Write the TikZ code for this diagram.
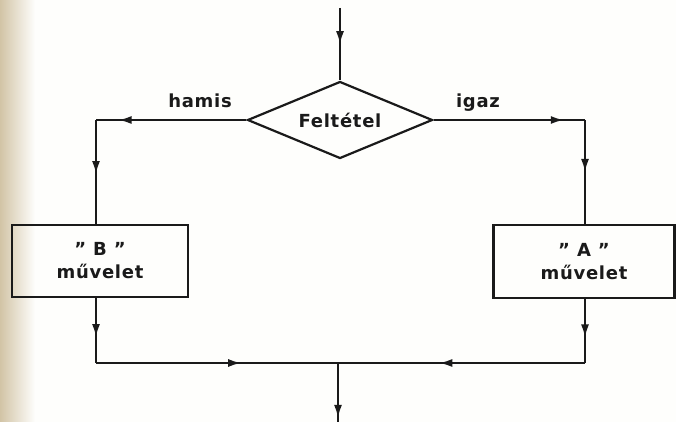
\documentclass[tikz,border=0pt]{standalone}
\usepackage{fontspec}
\setmainfont{DejaVu Sans}[LetterSpace=4]
\usetikzlibrary{shapes.geometric,decorations.markings,arrows.meta}
\definecolor{ink}{HTML}{1A1A1A}
\definecolor{paper}{HTML}{FEFEFC}
\definecolor{edgetan}{HTML}{D2C4A6}
\begin{document}
\begin{tikzpicture}[x=1pt,y=-1pt,
  lbl/.style={font=\fontsize{18}{23}\selectfont\bfseries, text=ink},
  box/.style={draw=ink, line width=2.2pt, rectangle, inner sep=0pt, align=center, lbl},
  cond/.style={draw=ink, line width=2.2pt, diamond, aspect=2.4, inner sep=0pt, minimum width=185pt, minimum height=77pt, lbl},
  flow/.style={draw=ink, line width=2pt, postaction={decorate},
    decoration={markings, mark=at position #1 with {\arrow{Latex[length=13pt,width=8pt]}}}},
]
\useasboundingbox (0,0) rectangle (676,422);
\fill[paper] (0,0) rectangle (676,422);
\shade[left color=edgetan, right color=paper, shading angle=90] (0,0) rectangle (35,422);

\node[cond] (d) at (340,120) {Feltétel};
\node[box, minimum width=176pt, minimum height=72pt] (B) at (100,261) {" B "\\művelet};
\node[box, minimum width=181pt, minimum height=73pt] (A) at (584,261.5) {" A "\\művelet};

\coordinate (top) at (340,8);
\coordinate (lc) at (96,120);
\coordinate (rc) at (585,120);
\coordinate (lb) at (96,363);
\coordinate (rb) at (585,363);
\coordinate (m) at (338,363);
\coordinate (bot) at (338,422);

\node[lbl, anchor=base] (hamis) at (200,108) {hamis};
\node[lbl, anchor=base] (igaz) at (478,108) {igaz};

\draw[flow=0.5] (top) -- (d.north);
\draw[flow=0.85] (d.west) -- (lc);
\draw[flow=0.52] (lc) -- (lc |- B.north);
\draw[flow=0.6] (lb |- B.south) -- (lb);
\draw[flow=0.6] (lb) -- (m);
\draw[flow=0.86] (d.east) -- (rc);
\draw[flow=0.5] (rc) -- (rc |- A.north);
\draw[flow=0.6] (rb |- A.south) -- (rb);
\draw[flow=0.59] (rb) -- (m);
\draw[flow=0.93] (m) -- (bot);
\end{tikzpicture}
\end{document}
